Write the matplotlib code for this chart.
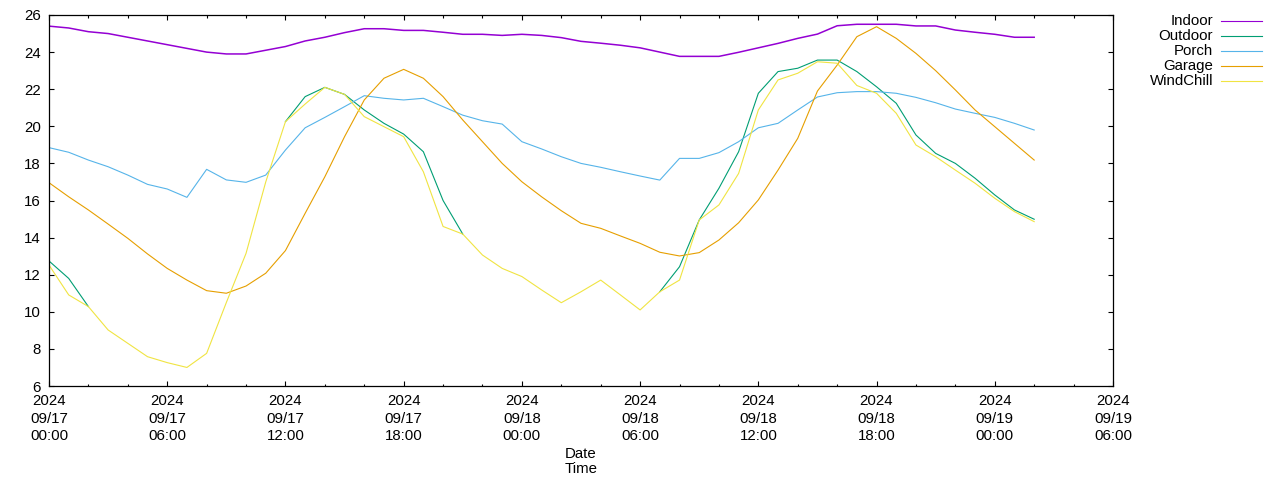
import numpy as np
import pandas as pd
import matplotlib
matplotlib.use("Agg")
import matplotlib.pyplot as plt
import matplotlib.dates as mdates
from matplotlib.lines import Line2D
from matplotlib.ticker import MultipleLocator

# hourly readings, 2024-09-17 00:00 .. 2024-09-19 02:00
start = "2024-09-17 00:00"

indoor = [25.4, 25.3, 25.1, 25.0, 24.8, 24.6, 24.4, 24.2, 24.0, 23.9,
          23.9, 24.1, 24.3, 24.6, 24.8, 25.05, 25.26, 25.26, 25.17, 25.17,
          25.07, 24.96, 24.96, 24.9, 24.96, 24.9, 24.78, 24.58, 24.48, 24.37,
          24.23, 24.0, 23.77, 23.77, 23.77, 23.99, 24.23, 24.47, 24.74, 24.97,
          25.42, 25.5, 25.5, 25.5, 25.41, 25.41, 25.19, 25.07, 24.96, 24.8,
          24.8]

windchill = [12.52, 10.91, 10.28, 9.02, 8.3, 7.58, 7.26, 7.0, 7.76, 10.5,
             13.15, 17.0, 20.25, 21.2, 22.1, 21.72, 20.52, 19.98, 19.44, 17.55,
             14.6, 14.19, 13.06, 12.34, 11.9, 11.18, 10.49, 11.08, 11.71, 10.91,
             10.1, 11.08, 11.71, 14.95, 15.76, 17.46, 20.88, 22.5, 22.86, 23.48,
             23.4, 22.2, 21.78, 20.7, 18.99, 18.36, 17.64, 16.93, 16.12, 15.4,
             14.86]

outdoor = [12.74, 11.8, 10.28, 9.02, 8.3, 7.58, 7.26, 7.0, 7.76, 10.5,
           13.15, 17.0, 20.25, 21.6, 22.1, 21.72, 20.88, 20.16, 19.58, 18.63,
           16.0, 14.19, 13.06, 12.34, 11.9, 11.18, 10.49, 11.08, 11.71, 10.91,
           10.1, 11.08, 12.43, 14.95, 16.66, 18.63, 21.78, 22.95, 23.13, 23.57,
           23.57, 22.95, 22.13, 21.24, 19.53, 18.54, 18.0, 17.2, 16.3, 15.49,
           14.99]

porch = [18.85, 18.6, 18.18, 17.82, 17.37, 16.87, 16.62, 16.17, 17.68, 17.11,
         16.98, 17.37, 18.72, 19.92, 20.48, 21.06, 21.65, 21.51, 21.42, 21.51,
         21.06, 20.6, 20.3, 20.12, 19.17, 18.78, 18.36, 18.0, 17.79, 17.55,
         17.32, 17.1, 18.27, 18.27, 18.58, 19.17, 19.92, 20.16, 20.88, 21.58,
         21.81, 21.87, 21.87, 21.78, 21.56, 21.27, 20.93, 20.7, 20.48, 20.16,
         19.8]

garage = [16.96, 16.2, 15.49, 14.73, 13.96, 13.12, 12.34, 11.71, 11.14, 11.0,
          11.39, 12.08, 13.3, 15.31, 17.28, 19.44, 21.42, 22.59, 23.07, 22.59,
          21.6, 20.34, 19.17, 18.0, 17.01, 16.2, 15.45, 14.77, 14.5, 14.09,
          13.69, 13.21, 13.01, 13.19, 13.87, 14.8, 16.03, 17.64, 19.35, 21.9,
          23.3, 24.83, 25.37, 24.74, 23.93, 23.0, 21.96, 20.88, 19.98, 19.08,
          18.18]

names = ["Indoor", "Outdoor", "Porch", "Garage", "WindChill"]
colors = ["#9400d3", "#009e73", "#56b4e9", "#e69f00", "#f0e442"]

times = pd.date_range(start, periods=len(indoor), freq="h")

# where Outdoor == WindChill the yellow line sits exactly on top of the
# green one; drop those runs from the green line so no fringe shows through
o = np.array(outdoor, dtype=float)
w = np.array(windchill, dtype=float)
same = np.isclose(o, w)
inner = same & np.r_[False, same[:-1]] & np.r_[same[1:], False]
outdoor_vis = np.where(inner, np.nan, o)

series = [indoor, outdoor_vis, porch, garage, windchill]

narrow = ["Liberation Sans Narrow", "Liberation Sans", "DejaVu Sans"]
plt.rcParams["font.family"] = narrow
plt.rcParams["font.size"] = 10.8

fig = plt.figure(figsize=(12.8, 4.8), dpi=100)
ax = fig.add_axes([49 / 1280, 94 / 480, 1064 / 1280, 371 / 480])

for vals, c in zip(series, colors):
    ax.plot(times, vals, color=c, lw=1.1 if c == "#9400d3" else 0.8)

ax.set_ylim(6, 26)
ax.yaxis.set_major_locator(MultipleLocator(2))
ax.set_xlim(pd.Timestamp("2024-09-17 00:00"), pd.Timestamp("2024-09-19 06:00"))
ax.xaxis.set_major_locator(mdates.HourLocator(byhour=[0, 6, 12, 18]))
ax.xaxis.set_minor_locator(mdates.HourLocator(interval=2))
ax.xaxis.set_major_formatter(mdates.DateFormatter("%Y\n%m/%d\n%H:%M"))

ax.tick_params(which="both", direction="in", top=True, right=True,
               width=0.8, colors="black")
ax.tick_params(which="major", length=3.5, pad=6)
ax.tick_params(which="minor", length=1.8)
for lbl in ax.get_xticklabels():
    lbl.set_linespacing(1.3)
for sp in ax.spines.values():
    sp.set_linewidth(0.9)

ax.set_xlabel("Date\nTime", linespacing=1.1, labelpad=3)

# key, gnuplot style: right aligned text then a line sample
for i, (name, c) in enumerate(zip(names, colors)):
    yy = 1 - (21 + 15 * i) / 480
    fig.text(1213 / 1280, yy, name, ha="right", va="center",
             family=["Liberation Sans", "DejaVu Sans"], fontsize=10.8)
    fig.add_artist(Line2D([1221 / 1280, 1262 / 1280], [yy, yy],
                          color=c, lw=0.8, transform=fig.transFigure))

fig.savefig("out.png", dpi=100)
